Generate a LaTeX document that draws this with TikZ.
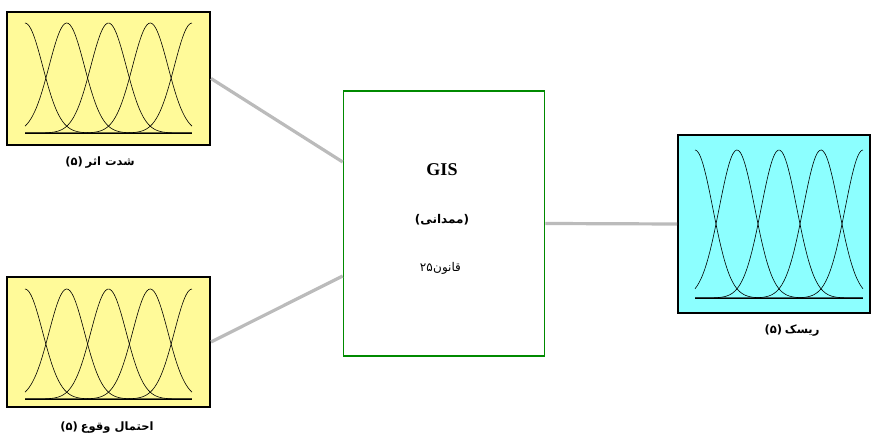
\documentclass[tikz,border=0pt]{standalone}
\usepackage{fontspec}
\setmainfont{Liberation Serif}
\newfontfamily\fa[Script=Arabic]{DejaVu Sans}
\newfontfamily\dvs{DejaVu Sans}
\TeXXeTstate=1
\usetikzlibrary{calc}
\definecolor{mfyellow}{HTML}{FFFA99}
\definecolor{mfcyan}{HTML}{8CFFFF}
\definecolor{fisgreen}{HTML}{008A00}
\definecolor{linkgray}{HTML}{BBBBBB}
\newcommand\mfset[4]{%
  \pgfmathsetmacro\mfdx{(#2-#1)/4}%
  \pgfmathsetmacro\mfh{#3-#4}%
  \begin{scope}[shift={(#1,#4)}, x=\mfdx pt, y=\mfh pt]
    \draw[mfline] (0,0) -- (4,0);
    \foreach \cc in {0,...,4}
      \draw[mfline] plot[domain=0:4, samples=90, smooth] (\x,{exp(-((\x-\cc)^2)/0.36)});
  \end{scope}}
\newcommand\fn[1]{\hbox{\dvs #1}}
\newcommand\fw[1]{\hbox{\fa\beginR #1\endR}}
\begin{document}
\begin{tikzpicture}[x=1pt,y=1pt,
  varbox/.style={draw=black, line width=2pt, inner sep=0pt},
  fisbox/.style={draw=fisgreen, line width=1.6pt, fill=white, inner sep=0pt},
  link/.style={draw=linkgray, line width=3.2pt},
  mfline/.style={black, line width=0.6pt},
  falabel/.style={font=\bfseries\fontsize{11.5}{13}\selectfont, inner sep=0pt},
  rulelabel/.style={font=\fontsize{12}{14}\selectfont, inner sep=0pt}]
\useasboundingbox (0,0) rectangle (871,436);
% variable boxes
\node[varbox, fill=mfyellow, minimum width=203pt, minimum height=133pt] (in1) at (108.5,357.5) {};
\node[varbox, fill=mfyellow, minimum width=203pt, minimum height=130pt] (in2) at (108.5,94) {};
\node[varbox, fill=mfcyan, minimum width=192pt, minimum height=178pt] (out1) at (774,212) {};
\node[fisbox, minimum width=201pt, minimum height=265pt] (fis) at (444,212.5) {};
% membership functions
\mfset{25}{192}{413}{303}
\mfset{25}{192}{147}{37}
\mfset{695}{863}{286}{138}
% connectors
\draw[link] (in1.east) -- ($(fis.west)+(0,61.5)$);
\draw[link] (in2.east) -- ($(fis.west)+(0,-52.5)$);
\draw[link] (fis.east) -- (out1.west);
% labels
\node[falabel] (l1) at (100,273) {\fn{(۵)} \fw{شدت اثر}};
\node[falabel] (l2) at (107,8) {\fn{(۵)} \fw{احتمال وقوع}};
\node[falabel] (l3) at (792,105) {\fn{(۵)} \fw{ریسک}};
\node[font=\bfseries\fontsize{18}{20}\selectfont, inner sep=0pt] (t1) at (442,266) {GIS};
\node[falabel, font=\bfseries\fontsize{12}{14}\selectfont] (t2) at (442,216) {\fn{(}\fw{ممدانی}\fn{)}};
\node[rulelabel, anchor=base east] (t3a) at (433,164) {\fn{۲۵}};
\node[rulelabel, anchor=base west] (t3b) at (433,164) {\fw{قانون}};
\end{tikzpicture}
\end{document}
